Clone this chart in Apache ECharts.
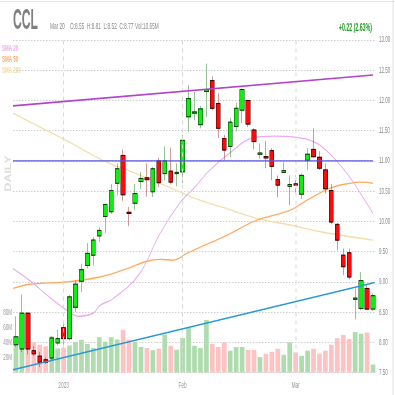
<!DOCTYPE html>
<html>
<head>
<meta charset="utf-8">
<script src="https://cdn.jsdelivr.net/npm/echarts@6/dist/echarts.min.js"></script>
<style>
html,body{margin:0;padding:0;overflow:hidden;background:#fff;width:395px;height:395px;}
#c{width:790px;height:395px;transform:scaleX(0.5);transform-origin:0 0;}
</style>
</head>
<body>
<div id="c"></div>
<script>
// ---------- data ----------
const dates = ['2022-12-20','2022-12-21','2022-12-22','2022-12-23','2022-12-27','2022-12-28','2022-12-29','2022-12-30',
'2023-01-03','2023-01-04','2023-01-05','2023-01-06','2023-01-09','2023-01-10','2023-01-11','2023-01-12','2023-01-13','2023-01-17','2023-01-18','2023-01-19','2023-01-20','2023-01-23','2023-01-24','2023-01-25','2023-01-26','2023-01-27','2023-01-30','2023-01-31',
'2023-02-01','2023-02-02','2023-02-03','2023-02-06','2023-02-07','2023-02-08','2023-02-09','2023-02-10','2023-02-13','2023-02-14','2023-02-15','2023-02-16','2023-02-17','2023-02-21','2023-02-22','2023-02-23','2023-02-24','2023-02-27','2023-02-28',
'2023-03-01','2023-03-02','2023-03-03','2023-03-06','2023-03-07','2023-03-08','2023-03-09','2023-03-10','2023-03-13','2023-03-14','2023-03-15','2023-03-16','2023-03-17','2023-03-20'];
const opens  = [7.96,7.89,8.48,7.86,7.77,7.71,7.74,7.99, 8.24,8.06,8.58,9.01,9.27,9.44,9.76,10.08,10.16,10.63,11.09,10.15,10.30,10.66,10.72,10.49,11.00,10.79,10.83,10.79,
 10.82,11.73,11.79,11.60,12.15,12.33,11.95,11.37,11.24,11.57,11.84,12.00,11.51,11.11,11.07,11.17,10.69,10.81,10.58,
 10.62,10.45,11.01,11.19,11.06,10.85,10.51,9.95,9.44,9.48,8.71,8.56,8.89,8.55];
const highs  = [8.43,8.79,8.49,7.94,7.84,7.75,8.10,8.21, 8.32,8.78,9.02,9.30,9.64,9.74,9.90,10.28,10.62,10.96,11.19,10.24,10.62,10.82,10.96,10.90,11.05,11.24,11.22,10.96,
 11.43,12.25,12.14,11.91,12.61,12.40,12.12,11.43,11.71,11.96,12.20,12.01,11.54,11.29,11.33,11.21,10.76,10.98,10.76,
 10.76,10.79,11.21,11.54,11.16,10.96,10.62,9.97,9.55,9.55,8.89,9.16,8.95,8.81];
const lows   = [7.93,7.84,7.80,7.77,7.59,7.64,7.71,7.95, 7.92,8.03,8.50,8.83,9.22,9.27,9.66,9.81,10.12,10.43,10.34,9.92,10.19,10.54,10.41,10.40,10.57,10.68,10.61,10.58,
 10.63,11.48,11.67,11.54,11.73,11.84,11.38,11.01,11.06,11.49,11.63,11.56,11.19,11.04,10.88,10.68,10.40,10.80,10.27,
 10.45,10.37,10.85,11.05,10.85,10.46,9.95,9.52,9.11,9.04,8.38,8.53,8.53,8.52];
const closes = [8.09,8.48,7.89,7.81,7.67,7.67,8.07,8.06, 8.06,8.75,8.96,9.20,9.47,9.69,9.85,10.28,10.51,10.87,10.44,10.13,10.46,10.71,10.69,10.87,10.64,11.00,10.65,10.81,
 11.34,12.03,11.81,11.86,12.18,11.87,11.54,11.18,11.64,11.87,12.18,11.61,11.32,11.13,11.05,10.91,10.60,10.84,10.61,
 10.60,10.76,11.11,11.07,10.88,10.54,9.99,9.69,9.25,9.08,8.73,9.02,8.55,8.77];
const volumesM = [38,55,45,40,37,35,48,32, 33,36,40.5,43.6,38,32.5,47,41,47,44,57,43.6,40.5,34,32.5,29.7,31.8,50.6,35.6,30.4,
 46,59.4,35.6,32.5,70,38,34,40,29,34,34,30,30,20.5,25,27.6,31.6,23.6,40,
 26.7,22.2,29,31.6,25,29,37,45.8,50,44.5,53.8,51.6,53.3,10.65];

// moving averages (x = bar position, y = price)
const sma20X = [-0.5,2.35,5.7,9.1,10.4,13,14.1,16.3,20.8,24.2,27.5,29.9,32.6,35.9,39.8,43.2,47.2,50.6,53.3,56.1,58.3,60];
const sma20Y = [9.22,9.02,8.74,8.49,8.43,8.48,8.61,8.72,9.14,9.80,10.30,10.55,10.85,11.13,11.38,11.41,11.39,11.29,11.06,10.73,10.40,10.13];
const sma50X = [-0.5,2.35,8.6,14.1,18.7,22,24.2,26.4,28.7,30.9,34.8,40.5,46,48.9,52.8,56.1,58.3,60];
const sma50Y = [8.89,8.96,9.00,9.08,9.22,9.34,9.37,9.36,9.47,9.57,9.74,10.02,10.18,10.35,10.55,10.63,10.65,10.63];
const sma200X = [-0.5,4.03,8.57,14.6,19.7,25.4,30.9,34.8,40.5,46.05,51.6,60];
const sma200Y = [11.79,11.56,11.33,11.01,10.81,10.58,10.35,10.23,10.05,9.94,9.82,9.69];

// drawn trend lines (bar position, price)
const purpleX = [-0.5,60], purpleY = [11.91,12.42];
const hLineX  = [-0.5,60], hLineY  = [11.00,11.00];
const cyanX   = [-0.5,60.3], cyanY = [7.545,8.99];

// axis ticks / labels
const priceMin = 7.5, priceMax = 13, priceStep = 0.5;
const volTicksM = [20,40,60,80];
const xLabelIdx = [8,28,47];
const xLabelText = ['2023','Feb','Mar'];

const ticker = 'CCL';
const infoDate = 'Mar 20';
const changeText = '+0.22 (2.63%)';

// ---------- chart ----------
const FONT = "'Liberation Sans', Arial, sans-serif";
const chart = echarts.init(document.getElementById('c'), null, {renderer:'canvas'});
const n = dates.length;
const wickData = dates.map((d,i)=>[opens[i],closes[i],lows[i],highs[i]]);
const bodyData = dates.map((d,i)=>[opens[i],closes[i],Math.min(opens[i],closes[i]),Math.max(opens[i],closes[i])]);
const volData = dates.map((d,i)=>({value:volumesM[i], itemStyle:{color: closes[i]>=opens[i] ? '#aedcae' : '#ffc2c2'}}));
const pairs = (xs,ys)=>xs.map((x,i)=>[x,ys[i]]);
const fmtInfo = `O:${opens[n-1].toFixed(2)}  H:${highs[n-1].toFixed(2)}  L:${lows[n-1].toFixed(2)}  C:${closes[n-1].toFixed(2)}`;
const volLast = 'Vol:10.65M';

const lineSeries = (name,xs,ys,color,width,z,smooth)=>({
  name, type:'line', xAxisIndex:1, yAxisIndex:0, data:pairs(xs,ys), showSymbol:false, smooth: smooth,
  lineStyle:{color, width}, z, silent:true, animation:false
});

chart.setOption({
  animation:false,
  backgroundColor:'#fff',
  grid:{left:26,right:38,top:40,bottom:22.5},
  xAxis:[
    {type:'category', data:dates, boundaryGap:true,
     axisLine:{show:false}, axisTick:{show:false}, splitLine:{show:false},
     axisLabel:{interval:(idx)=>xLabelIdx.includes(idx), formatter:(v,idx)=>{const k=xLabelIdx.indexOf(idx);return k>=0?xLabelText[k]:'';},
       color:'#999', fontSize:9.5, fontFamily:FONT, margin:8}},
    {type:'value', min:-0.5, max:n-0.5, show:false}
  ],
  yAxis:[
    {type:'value', position:'right', min:priceMin, max:priceMax, interval:priceStep,
     axisLine:{show:false}, axisTick:{show:false},
     axisLabel:{formatter:v=>v.toFixed(2), color:'#8a8a8a', fontSize:9, fontFamily:FONT, margin:6},
     splitLine:{show:true, lineStyle:{color:'#cfcfcf', type:[3,3], width:1}}},
    {type:'value', position:'left', min:0, max:443, interval:20,
     axisLine:{show:false}, axisTick:{show:false}, splitLine:{show:false},
     axisLabel:{formatter:v=>volTicksM.includes(v)?v+'M':'', color:'#999', fontSize:9, fontFamily:FONT, margin:2}}
  ],
  series:[
    {name:'Volume', type:'bar', xAxisIndex:0, yAxisIndex:1, data:volData, barWidth:9.4, z:1, silent:true,
     markLine:{symbol:'none', silent:true, label:{show:false},
       lineStyle:{color:'#d8d8d8', type:[4,4], width:2},
       data:xLabelIdx.map(i=>({xAxis:i}))}},
    lineSeries('SMA 200', sma200X, sma200Y, '#f6dca6', 1.3, 2, 0.4),
    lineSeries('SMA 50', sma50X, sma50Y, '#ffa95e', 1.3, 2, 0.4),
    lineSeries('SMA 20', sma20X, sma20Y, '#eea8ee', 1.3, 2, 0.4),
    {name:'wick', type:'candlestick', xAxisIndex:0, yAxisIndex:0, data:wickData, barWidth:9, z:3, silent:true,
     itemStyle:{color:'rgba(0,0,0,0)', color0:'rgba(0,0,0,0)', borderColor:'#2f8a2f', borderColor0:'#a03a3a', borderWidth:1}},
    {name:'body', type:'candlestick', xAxisIndex:0, yAxisIndex:0, data:bodyData, barWidth:9, z:4, silent:true,
     itemStyle:{color:'#0fee0f', color0:'#ff0a0a', borderColor:'#0b3d0b', borderColor0:'#3d0505', borderWidth:1},
     markLine:{symbol:'none', silent:true, lineStyle:{opacity:0},
       label:{show:true, position:'end', formatter:closes[n-1].toFixed(2), backgroundColor:'#ffff00', color:'#333',
         fontSize:9, fontFamily:FONT, padding:[1,1,0,1], distance:4, offset:[0,-3]},
       data:[{yAxis:closes[n-1]}]}},
    lineSeries('trendPurple', purpleX, purpleY, '#b342cc', 1.6, 5, false),
    lineSeries('level', hLineX, hLineY, '#5656dc', 1.2, 5, false),
    lineSeries('trendCyan', cyanX, cyanY, '#2699d6', 1.6, 5, false)
  ],
  graphic:[
    {type:'line', shape:{x1:0,y1:1.5,x2:790,y2:1.5}, style:{stroke:'#e8e8e8', lineWidth:1}, silent:true},
    {type:'line', shape:{x1:786,y1:0,x2:786,y2:395}, style:{stroke:'#e0e0e0', lineWidth:2}, silent:true},
    {type:'text', x:26, y:21, scaleX:0.81, silent:true,
     style:{text:ticker, font:`bold 30px ${FONT}`, fill:'#808080', verticalAlign:'middle', align:'left'}},
    {type:'text', x:100, y:26.7, silent:true,
     style:{text:infoDate, font:`9.5px ${FONT}`, fill:'#888', verticalAlign:'middle'}},
    {type:'text', x:140, y:26.7, silent:true,
     style:{text:fmtInfo, font:`9.5px ${FONT}`, fill:'#888', verticalAlign:'middle'}},
    {type:'text', x:270, y:26.7, silent:true,
     style:{text:volLast, font:`9.5px ${FONT}`, fill:'#888', verticalAlign:'middle'}},
    {type:'text', x:744, y:28, silent:true,
     style:{text:changeText, font:`bold 10.5px ${FONT}`, fill:'#1fa01f', verticalAlign:'middle', align:'right'}},
    {type:'text', x:4, y:48.3, silent:true,
     style:{text:'SMA 20', font:`bold 9px ${FONT}`, fill:'#eeaaee', verticalAlign:'middle'}},
    {type:'text', x:4, y:60, silent:true,
     style:{text:'SMA 50', font:`bold 9px ${FONT}`, fill:'#ffab66', verticalAlign:'middle'}},
    {type:'text', x:4, y:71, silent:true,
     style:{text:'SMA 200', font:`bold 9px ${FONT}`, fill:'#f3d99c', verticalAlign:'middle'}},
    {type:'text', x:17, y:173.5, rotation:Math.PI/2, scaleX:0.65, silent:true,
     style:{text:'DAILY', font:`bold 19px ${FONT}`, fill:'#dddddd', verticalAlign:'middle', align:'center'}}
  ]
});
</script>
</body>
</html>
